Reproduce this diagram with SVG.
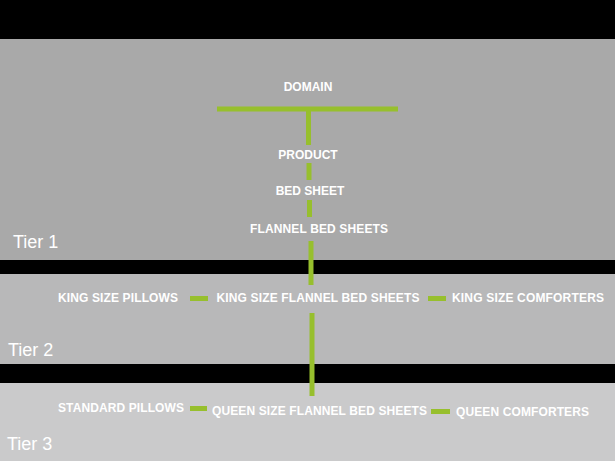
<svg xmlns="http://www.w3.org/2000/svg" width="615" height="461" viewBox="0 0 615 461">
<style>
.n{font-family:"Liberation Sans",Arial,sans-serif;font-weight:bold;font-size:12px;fill:#fff;text-anchor:middle}
.t{font-family:"Liberation Sans",Arial,sans-serif;font-size:18px;fill:#fff}
.c{stroke:#97bf2d;stroke-width:5;fill:none}
</style>
<rect x="0" y="0" width="615" height="461" fill="#000"/>
<g id="bands">
<rect x="0" y="39" width="615" height="221" fill="#a9a9a9"/>
<rect x="0" y="274" width="615" height="90" fill="#b8b8b9"/>
<rect x="0" y="383" width="615" height="78" fill="#cacacb"/>
</g>
<g id="tiers">
<text class="t" x="13" y="248">Tier 1</text>
<text class="t" x="8" y="356">Tier 2</text>
<text class="t" x="7" y="450">Tier 3</text>
</g>
<g id="connectors">
<line class="c" x1="217" y1="109" x2="398" y2="109"/>
<line class="c" x1="308.5" y1="109" x2="308.5" y2="145"/>
<line class="c" x1="309" y1="163" x2="309" y2="180"/>
<line class="c" x1="309.5" y1="200" x2="309.5" y2="217"/>
<line class="c" x1="311" y1="241" x2="311" y2="285"/>
<line class="c" x1="312" y1="313" x2="312" y2="396"/>
<line class="c" x1="190" y1="298.5" x2="208" y2="298.5"/>
<line class="c" x1="428" y1="298.5" x2="446" y2="298.5"/>
<line class="c" x1="190" y1="408.5" x2="207" y2="408.5"/>
<line class="c" x1="431" y1="411.5" x2="450" y2="411.5"/>
</g>
<g id="domain"><text class="n" x="308" y="91">DOMAIN</text></g>
<g id="product"><text class="n" x="308" y="159">PRODUCT</text></g>
<g id="bed-sheet"><text class="n" x="310" y="195">BED SHEET</text></g>
<g id="flannel-bed-sheets"><text class="n" x="319" y="233" textLength="138">FLANNEL BED SHEETS</text></g>
<g id="king-size-pillows"><text class="n" x="118" y="301.5" textLength="120">KING SIZE PILLOWS</text></g>
<g id="king-size-flannel"><text class="n" x="318" y="301.5" textLength="203">KING SIZE FLANNEL BED SHEETS</text></g>
<g id="king-size-comforters"><text class="n" x="528" y="301.5" textLength="152">KING SIZE COMFORTERS</text></g>
<g id="standard-pillows"><text class="n" x="121" y="411.5" textLength="126">STANDARD PILLOWS</text></g>
<g id="queen-size-flannel"><text class="n" x="319.5" y="415" textLength="215">QUEEN SIZE FLANNEL BED SHEETS</text></g>
<g id="queen-comforters"><text class="n" x="522.5" y="415.5" textLength="133">QUEEN COMFORTERS</text></g>
</svg>
